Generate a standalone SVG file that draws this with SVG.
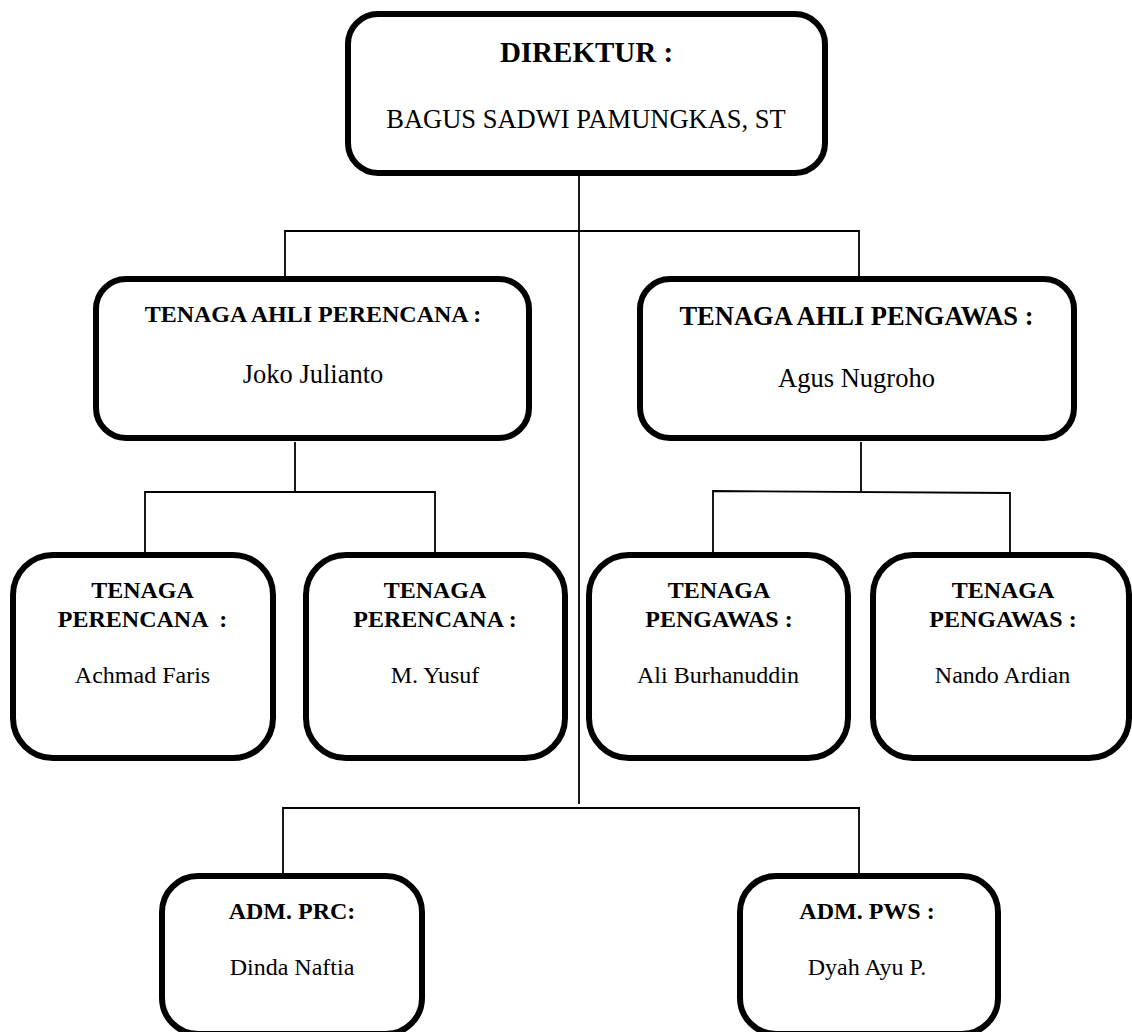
<svg xmlns="http://www.w3.org/2000/svg" width="1132" height="1032" viewBox="0 0 1132 1032">
<style>
.box{fill:#fff;stroke:#000;stroke-width:6}
.ln{stroke:#000;stroke-width:1.8;fill:none}
text{font-family:"Liberation Serif","Times New Roman",serif;fill:#000;text-anchor:middle}
.b{font-weight:bold;font-size:24px}
.r{font-size:24px}
</style>
<rect width="1132" height="1032" fill="#fff"/>
<g id="connectors">
<path class="ln" d="M579,176V804"/>
<path class="ln" d="M285,276V231H859V276"/>
<path class="ln" d="M295,442V492"/>
<path class="ln" d="M145,552V492H435V552"/>
<path class="ln" d="M861,442V492"/>
<path class="ln" d="M713,552V491L1010,493V552"/>
<path class="ln" d="M283,873V808H860"/>
<path class="ln" d="M859,808V873"/>
</g>
<g id="direktur">
<rect class="box" x="348" y="14" width="477" height="159" rx="30"/>
<text x="586.5" y="62" font-weight="bold" font-size="29">DIREKTUR :</text>
<text x="586" y="128" font-size="26.5">BAGUS SADWI PAMUNGKAS, ST</text>
</g>
<g id="ahli-perencana">
<rect class="box" x="96" y="279" width="433" height="159" rx="30"/>
<text class="b" x="313" y="322">TENAGA AHLI PERENCANA :</text>
<text x="313" y="383" font-size="26.5">Joko Julianto</text>
</g>
<g id="ahli-pengawas">
<rect class="box" x="640" y="279" width="434" height="159" rx="30"/>
<text x="856.5" y="325" font-weight="bold" font-size="26.5">TENAGA AHLI PENGAWAS :</text>
<text x="856.5" y="387" font-size="26.5">Agus Nugroho</text>
</g>
<g id="perencana-1">
<rect class="box" x="13" y="555" width="260" height="203" rx="40"/>
<text class="b" x="142.5" y="598">TENAGA</text>
<text class="b" x="142.5" y="627" xml:space="preserve">PERENCANA  :</text>
<text class="r" x="142.5" y="683">Achmad Faris</text>
</g>
<g id="perencana-2">
<rect class="box" x="306" y="555" width="259" height="203" rx="40"/>
<text class="b" x="435" y="598">TENAGA</text>
<text class="b" x="435" y="627">PERENCANA :</text>
<text class="r" x="435" y="683">M. Yusuf</text>
</g>
<g id="pengawas-1">
<rect class="box" x="589" y="555" width="259" height="203" rx="40"/>
<text class="b" x="719" y="598">TENAGA</text>
<text class="b" x="719" y="627">PENGAWAS :</text>
<text class="r" x="718" y="683">Ali Burhanuddin</text>
</g>
<g id="pengawas-2">
<rect class="box" x="873" y="555" width="256" height="203" rx="40"/>
<text class="b" x="1003" y="598">TENAGA</text>
<text class="b" x="1003" y="627">PENGAWAS :</text>
<text class="r" x="1002.5" y="683">Nando Ardian</text>
</g>
<g id="adm-prc">
<rect class="box" x="162" y="876" width="260" height="158" rx="36"/>
<text class="b" x="292" y="919">ADM. PRC:</text>
<text class="r" x="292" y="975">Dinda Naftia</text>
</g>
<g id="adm-pws">
<rect class="box" x="740" y="876" width="258" height="158" rx="36"/>
<text class="b" x="867" y="919">ADM. PWS :</text>
<text class="r" x="867" y="975">Dyah Ayu P.</text>
</g>
</svg>
